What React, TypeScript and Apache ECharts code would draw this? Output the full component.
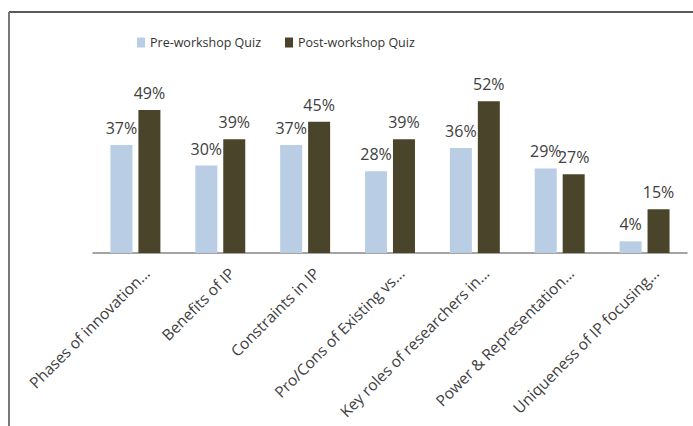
import React, { useEffect, useRef } from "react";
import * as echarts from "echarts";

const categories = [
  "Phases of innovation...",
  "Benefits of IP",
  "Constraints in IP",
  "Pro/Cons of Existing vs...",
  "Key roles of researchers in...",
  "Power & Representation...",
  "Uniqueness of IP focusing...",
];
const preWorkshop = [37, 30, 37, 28, 36, 29, 4];
const postWorkshop = [49, 39, 45, 39, 52, 27, 15];
const seriesNames = ["Pre-workshop Quiz", "Post-workshop Quiz"];

const FONT = "Open Sans";

export default function App() {
  const ref = useRef<HTMLDivElement>(null);
  useEffect(() => {
    if (!ref.current) return;
    const chart = echarts.init(ref.current, undefined, { renderer: "svg" });
    const labelCfg = {
      show: true,
      position: "top" as const,
      distance: 9,
      formatter: "{c}%",
      color: "#404040",
      fontFamily: FONT,
      fontSize: 16,
    };
    chart.setOption({
      animation: false,
      backgroundColor: "#ffffff",
      graphic: [
        { type: "line", shape: { x1: 9, y1: 12, x2: 693, y2: 12 }, style: { stroke: "#222", lineWidth: 1.5 } },
        { type: "line", shape: { x1: 9, y1: 12, x2: 9, y2: 426 }, style: { stroke: "#777", lineWidth: 2 } },
      ],
      legend: {
        data: seriesNames,
        left: 132,
        top: 31,
        itemWidth: 8,
        itemHeight: 10,
        itemGap: 24,
        icon: "rect",
        textStyle: { fontFamily: FONT, fontSize: 12.5, color: "#333333" },
      },
      grid: { left: 93, right: 6, top: 78, bottom: 173, containLabel: false },
      xAxis: {
        type: "category",
        data: categories,
        axisLine: { lineStyle: { color: "#868686", width: 1.5 } },
        axisTick: { show: false },
        axisLabel: {
          interval: 0,
          rotate: 45,
          margin: 6,
          verticalAlign: "top",
          padding: [8, 0, 0, 0],
          color: "#404040",
          fontFamily: FONT,
          fontSize: 15.5,
        },
      },
      yAxis: {
        type: "value",
        min: 0,
        max: 60,
        show: false,
        splitLine: { show: false },
      },
      series: [
        {
          name: seriesNames[0],
          type: "bar",
          data: preWorkshop,
          barWidth: 22,
          barGap: "27%",
          itemStyle: { color: "#b9cde5" },
          label: labelCfg,
        },
        {
          name: seriesNames[1],
          type: "bar",
          data: postWorkshop,
          barWidth: 22,
          barGap: "27%",
          itemStyle: { color: "#4a442a" },
          label: labelCfg,
        },
      ],
    });
    return () => chart.dispose();
  }, []);
  return <div ref={ref} style={{ width: 693, height: 426, position: "absolute", left: 0, top: 0 }} />;
}
